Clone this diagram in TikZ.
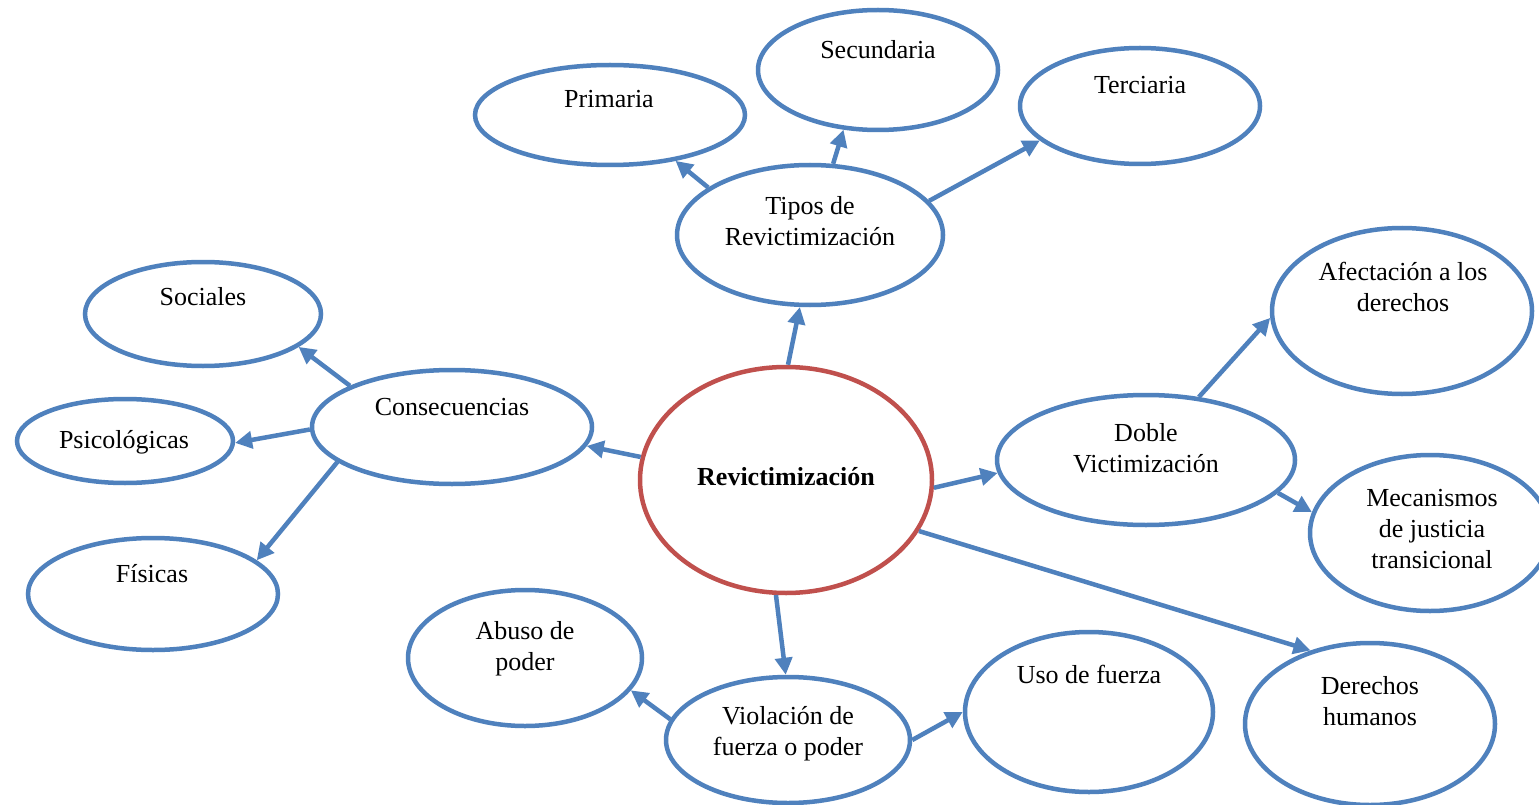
\documentclass[tikz,border=0pt]{standalone}
\usepackage{fontspec}
\setmainfont{Liberation Serif}
\usetikzlibrary{shapes.geometric,arrows.meta}
\definecolor{eblue}{RGB}{79,129,189}
\definecolor{ered}{RGB}{192,80,77}
\begin{document}
\begin{tikzpicture}[x=1pt,y=-1pt,
  ell/.style={ellipse,draw=eblue,line width=4.5pt,inner sep=0pt,fill=white},
  lbl/.style={align=center,inner sep=0pt,font=\fontsize{26}{31}\selectfont},
  conn/.style={draw=eblue,line width=4.5pt,-{Triangle[length=17pt,width=17pt]}}]
\useasboundingbox (0,0) rectangle (1539,805);
\fill[white] (0,0) rectangle (1539,805);
% ellipses
\node[ell,minimum width=240pt,minimum height=120pt] (sec) at (878,70) {};
\node[ell,minimum width=270pt,minimum height=100pt] (pri) at (610,115) {};
\node[ell,minimum width=240pt,minimum height=116pt] (ter) at (1140,106) {};
\node[ell,minimum width=266pt,minimum height=140pt] (tip) at (810,235) {};
\node[ell,minimum width=236pt,minimum height=104pt] (soc) at (203,314) {};
\node[ell,minimum width=216pt,minimum height=84pt] (psi) at (125,441) {};
\node[ell,minimum width=280pt,minimum height=114pt] (con) at (452,427) {};
\node[ell,minimum width=250pt,minimum height=112pt] (fis) at (153,594) {};
\node[ellipse,draw=ered,line width=4.5pt,inner sep=0pt,minimum width=292pt,minimum height=226pt] (rev) at (786,480) {};
\node[ell,minimum width=260pt,minimum height=166pt] (afe) at (1402,311) {};
\node[ell,minimum width=298pt,minimum height=130pt] (dob) at (1146,460) {};
\node[ell,minimum width=240pt,minimum height=156pt] (mec) at (1430,533) {};
\node[ell,minimum width=234pt,minimum height=136pt] (abu) at (525,658) {};
\node[ell,minimum width=244pt,minimum height=126pt] (vio) at (788,740) {};
\node[ell,minimum width=248pt,minimum height=160pt] (uso) at (1089,712) {};
\node[ell,minimum width=250pt,minimum height=162pt] (der) at (1370,724) {};
% labels
\node[lbl] (tsec) at (878,50) {Secundaria};
\node[lbl] (tpri) at (609,99) {Primaria};
\node[lbl] (tter) at (1140,85) {Terciaria};
\node[lbl] (ttip) at (810,221) {Tipos de\\Revictimización};
\node[lbl] (tsoc) at (203,297) {Sociales};
\node[lbl] (tpsi) at (124,442) {Psicológicas};
\node[lbl] (tcon) at (452,407) {Consecuencias};
\node[lbl] (tfis) at (152,574) {Físicas};
\node[lbl,font=\fontsize{26}{31}\selectfont\bfseries] (trev) at (786,477) {Revictimización};
\node[lbl] (tafe) at (1403,287) {Afectación a los\\derechos};
\node[lbl] (tdob) at (1146,448) {Doble\\Victimización};
\node[lbl] (tmec) at (1432,529) {Mecanismos\\de justicia\\transicional};
\node[lbl] (tabu) at (525,649) {Abuso de\\poder};
\node[lbl] (tvio) at (788,734) {Violación de\\fuerza o poder};
\node[lbl] (tuso) at (1089,674) {Uso de fuerza};
\node[lbl] (tder) at (1370,701) {Derechos\\humanos};
% connectors
\draw[conn] (rev.89) -- (tip.262);
\draw[conn] (tip.155) -- (pri.325);
\draw[conn] (tip.72) -- (sec.240);
\draw[conn] (tip.16) -- (ter.199);
\draw[conn] (rev.171) -- (con.352);
\draw[conn] (con.158) -- (soc.341);
\draw[conn] (con.181) -- (psi.359);
\draw[conn] (con.197) -- (fis.18);
\draw[conn] (rev.357) -- (dob.185);
\draw[conn] (dob.50.6) -- (afe.183);
\draw[conn] (dob.346) -- (mec.170.5);
\draw[conn] (rev.339) -- (der.129);
\draw[conn] (rev.265.5) -- (vio.92);
\draw[conn] (vio.170) -- (abu.343);
\draw[conn] (vio.0) -- (uso.180);
\end{tikzpicture}
\end{document}
